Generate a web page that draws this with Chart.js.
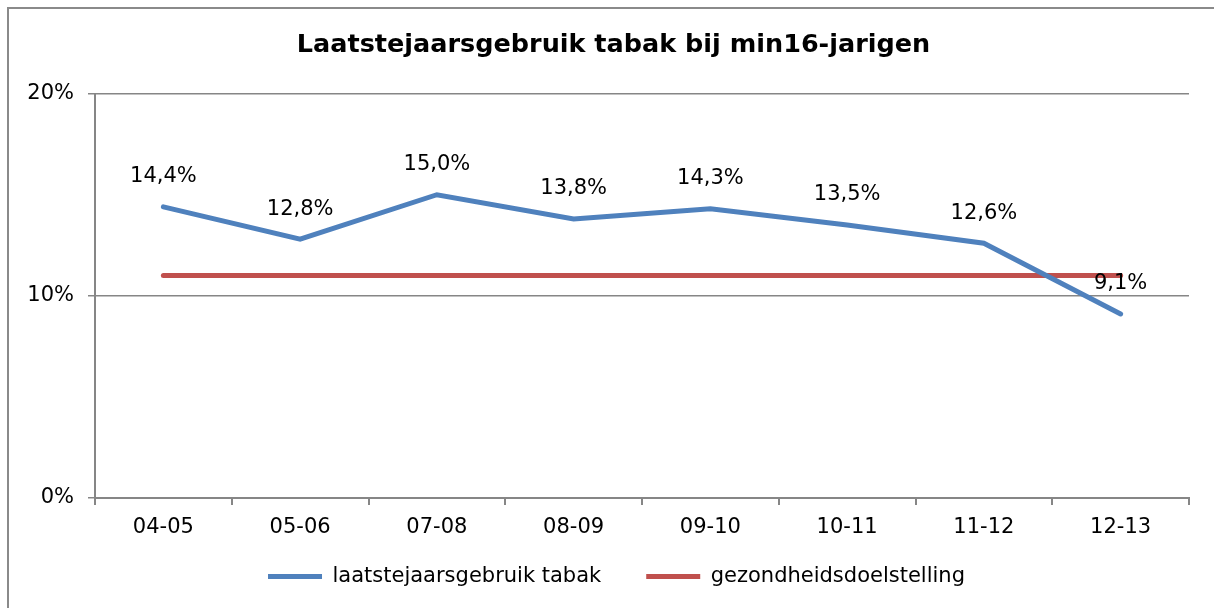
<!DOCTYPE html>
<html lang="nl">

<head>
    <meta charset="UTF-8">
    <title>Laatstejaarsgebruik tabak</title>
    <script src="https://cdn.jsdelivr.net/npm/chart.js"></script>
    <style>
        html, body { margin: 0; background: #fff; overflow: hidden; }
        .grafiek { position: absolute; left: 0; top: 0; width: 1214px; height: 608px; }
    </style>
</head>

<body>
    <div class="grafiek">
        <canvas id="grafiek-lijn" width="1214" height="608"></canvas>
    </div>

<script>
    // gegevens
    const schooljaren = ['04-05', '05-06', '07-08', '08-09', '09-10', '10-11', '11-12', '12-13'];
    const tabakGebruik = [14.4, 12.8, 15.0, 13.8, 14.3, 13.5, 12.6, 9.1];
    const doelstelling = [11, 11, 11, 11, 11, 11, 11, 11];
    const yTicks = [0, 10, 20];

    const blauw = '#4F81BD';
    const rood = '#C0504D';
    const grijs = '#868686';
    const lettertype = 'DejaVu Sans, Verdana, sans-serif';

    Chart.defaults.font.family = lettertype;
    Chart.defaults.color = '#000';

    // kader, verschuivingen en labels boven de punten
    const waardeLabels = {
        id: 'waardeLabels',
        afterLayout(chart) {
            // titel en legenda iets naar rechts, zoals in het origineel
            chart.titleBlock.left += 19;
            chart.titleBlock.right += 19;
            chart.legend.left += 22;
            chart.legend.right += 22;
            // x-labels niet afknippen
            chart.scales.x.bottom = chart.scales.x.top + 60;
        },
        beforeDraw(chart) {
            const ctx = chart.ctx;
            ctx.save();
            ctx.strokeStyle = '#8a8a8a';
            ctx.lineWidth = 2;
            ctx.beginPath();
            ctx.moveTo(8, chart.height);
            ctx.lineTo(8, 8);
            ctx.lineTo(chart.width, 8);
            ctx.stroke();
            ctx.restore();
        },
        afterDatasetsDraw(chart) {
            const ctx = chart.ctx;
            const meta = chart.getDatasetMeta(0);
            ctx.save();
            ctx.font = '21px ' + lettertype;
            ctx.fillStyle = '#000';
            ctx.textAlign = 'center';
            ctx.textBaseline = 'middle';
            meta.data.forEach((punt, i) => {
                const tekst = tabakGebruik[i].toFixed(1).replace('.', ',') + '%';
                ctx.fillText(tekst, punt.x, punt.y - 30);
            });
            ctx.restore();
        }
    };

    const ctx = document.getElementById('grafiek-lijn');

    new Chart(ctx, {
        type: 'line',
        data: {
            labels: schooljaren,
            datasets: [
                {
                    label: 'laatstejaarsgebruik tabak',
                    data: tabakGebruik,
                    borderColor: blauw,
                    backgroundColor: blauw,
                    borderWidth: 5,
                    pointRadius: 0,
                    borderCapStyle: 'round',
                    tension: 0
                },
                {
                    label: 'gezondheidsdoelstelling',
                    data: doelstelling,
                    borderColor: rood,
                    backgroundColor: rood,
                    borderWidth: 5,
                    pointRadius: 0,
                    borderCapStyle: 'round',
                    tension: 0
                }
            ]
        },
        options: {
            responsive: false,
            animation: false,
            devicePixelRatio: 1,
            layout: {
                padding: { top: 0, left: 0, right: 25, bottom: 11 }
            },
            plugins: {
                title: {
                    display: true,
                    text: 'Laatstejaarsgebruik tabak bij min16-jarigen',
                    font: { size: 25.5, weight: 'bold' },
                    color: '#000',
                    padding: { top: 30, bottom: 33 }
                },
                legend: {
                    position: 'bottom',
                    labels: {
                        boxWidth: 54,
                        boxHeight: 5,
                        padding: 45,
                        font: { size: 21 },
                        color: '#000',
                        useBorderRadius: true,
                        borderRadius: 2.5,
                        generateLabels(chart) {
                            return chart.data.datasets.map((ds, i) => ({
                                text: ds.label,
                                fillStyle: ds.borderColor,
                                strokeStyle: ds.borderColor,
                                lineWidth: 0,
                                fontColor: '#000',
                                datasetIndex: i
                            }));
                        }
                    }
                },
                tooltip: { enabled: false }
            },
            scales: {
                x: {
                    offset: true,
                    grid: {
                        offset: true,
                        drawOnChartArea: false,
                        drawTicks: true,
                        tickLength: 7,
                        color: grijs,
                        lineWidth: 2
                    },
                    border: { display: true, color: grijs, width: 2 },
                    ticks: {
                        font: { size: 21 },
                        color: '#000',
                        padding: 10,
                        maxRotation: 0,
                        autoSkip: false
                    },
                    afterFit(scale) { scale.height = 23; }
                },
                y: {
                    min: 0,
                    max: 20,
                    afterBuildTicks(scale) {
                        scale.ticks = yTicks.map(v => ({ value: v }));
                    },
                    grid: {
                        color: grijs,
                        lineWidth: 1.5,
                        drawTicks: true,
                        tickLength: 7
                    },
                    border: { display: true, color: grijs, width: 2 },
                    ticks: {
                        font: { size: 21 },
                        color: '#000',
                        padding: 14,
                        callback: (v) => v + '%'
                    },
                    afterFit(scale) { scale.width = 95; }
                }
            }
        },
        plugins: [waardeLabels]
    });
</script>
</body>

</html>
